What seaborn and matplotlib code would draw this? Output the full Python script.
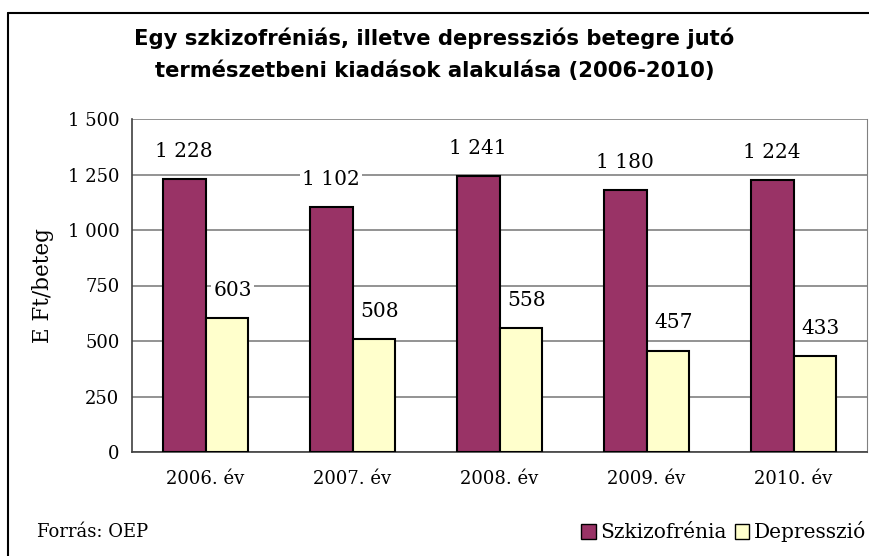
import pandas
import seaborn
import matplotlib.pyplot as plt
from matplotlib.lines import Line2D
from matplotlib.patches import Patch

# data
years = ["2006. év", "2007. év", "2008. év", "2009. év", "2010. év"]
szkizofrenia = [1228, 1102, 1241, 1180, 1224]
depresszio = [603, 508, 558, 457, 433]
series_names = ["Szkizofrénia", "Depresszió"]
yticks = [0, 250, 500, 750, 1000, 1250, 1500]

palette = {"Szkizofrénia": "#993366", "Depresszió": "#FFFFCC"}


def fmt(v):
    return f"{v:,}".replace(",", " ")


df = pandas.DataFrame(
    {
        "year": years * 2,
        "value": szkizofrenia + depresszio,
        "series": [series_names[0]] * 5 + [series_names[1]] * 5,
    }
)

seaborn.set_style("white")
plt.rcParams["font.family"] = ["DejaVu Serif"]
plt.rcParams["text.color"] = "black"
plt.rcParams["axes.labelcolor"] = "black"
plt.rcParams["xtick.color"] = "black"
plt.rcParams["ytick.color"] = "black"

fig = plt.figure(figsize=(8.69, 5.56), dpi=100)
ax = fig.add_axes([132 / 869, 1 - 452 / 556, (867 - 132) / 869, (452 - 119) / 556])

seaborn.barplot(
    data=df,
    x="year",
    y="value",
    hue="series",
    palette=palette,
    saturation=1,
    width=0.585,
    gap=0,
    edgecolor="black",
    linewidth=1.5,
    legend=False,
    ax=ax,
    zorder=3,
)

# value labels with white background over the grid
for container, vals, dx in zip(ax.containers, [szkizofrenia, depresszio], [0, 4]):
    for bar, v in zip(container, vals):
        ax.annotate(
            fmt(v),
            xy=(bar.get_x() + bar.get_width() / 2, bar.get_height()),
            xytext=(dx, 20),
            textcoords="offset points",
            ha="center",
            va="center",
            fontsize=14.5,
            bbox=dict(boxstyle="square,pad=0.1", fc="white", ec="none"),
            zorder=4,
        )

ax.set_ylim(0, 1500)
ax.set_xlim(-0.5, 4.5)
ax.set_yticks(yticks)
ax.set_yticklabels([fmt(t) for t in yticks], fontsize=13)
ax.yaxis.grid(True, color="#808080", linewidth=1.2)
ax.set_axisbelow(True)

# category boundaries as ticks, labels at the centres
ax.set_xticks([i - 0.5 for i in range(6)])
ax.set_xticklabels([])
ax.set_xticks(range(5), minor=True)
ax.set_xticklabels(years, minor=True, fontsize=13)
ax.tick_params(axis="x", which="minor", length=0, pad=13)
ax.tick_params(axis="x", which="major", direction="out", length=5, color="#404040")
ax.tick_params(axis="y", direction="out", length=5, color="#404040", pad=4)
ax.set_xlabel("")
ax.set_ylabel("E Ft/beteg", fontsize=15.5, labelpad=10)

for side in ["left", "bottom"]:
    ax.spines[side].set_color("#404040")
    ax.spines[side].set_linewidth(1.2)
ax.spines["right"].set_color("#808080")
ax.spines["top"].set_visible(False)

# title
fig.text(
    0.5,
    1 - 54 / 556,
    "Egy szkizofréniás, illetve depressziós betegre jutó\ntermészetbeni kiadások alakulása (2006-2010)",
    ha="center",
    va="center",
    fontsize=15.2,
    fontweight="heavy",
    family=["DejaVu Sans"],
    linespacing=1.7,
)

# source note
fig.text(37 / 869, 1 - 532 / 556, "Forrás: OEP", ha="left", va="center", fontsize=13)

# legend
handles = [Patch(facecolor=palette[n], edgecolor="black", linewidth=1) for n in series_names]
fig.legend(
    handles,
    series_names,
    loc="center right",
    bbox_to_anchor=(1.018, 1 - 532 / 556),
    ncol=2,
    frameon=False,
    fontsize=14.5,
    handlelength=0.7,
    handleheight=0.7,
    handletextpad=0.25,
    columnspacing=0.4,
)

# outer frame (left and top edges)
fig.add_artist(Line2D([8 / 869, 8 / 869], [0, 1 - 13 / 556], color="black", linewidth=1.5))
fig.add_artist(Line2D([8 / 869, 1], [1 - 13 / 556, 1 - 13 / 556], color="black", linewidth=1.5))

fig.savefig("out.png", dpi=100)
